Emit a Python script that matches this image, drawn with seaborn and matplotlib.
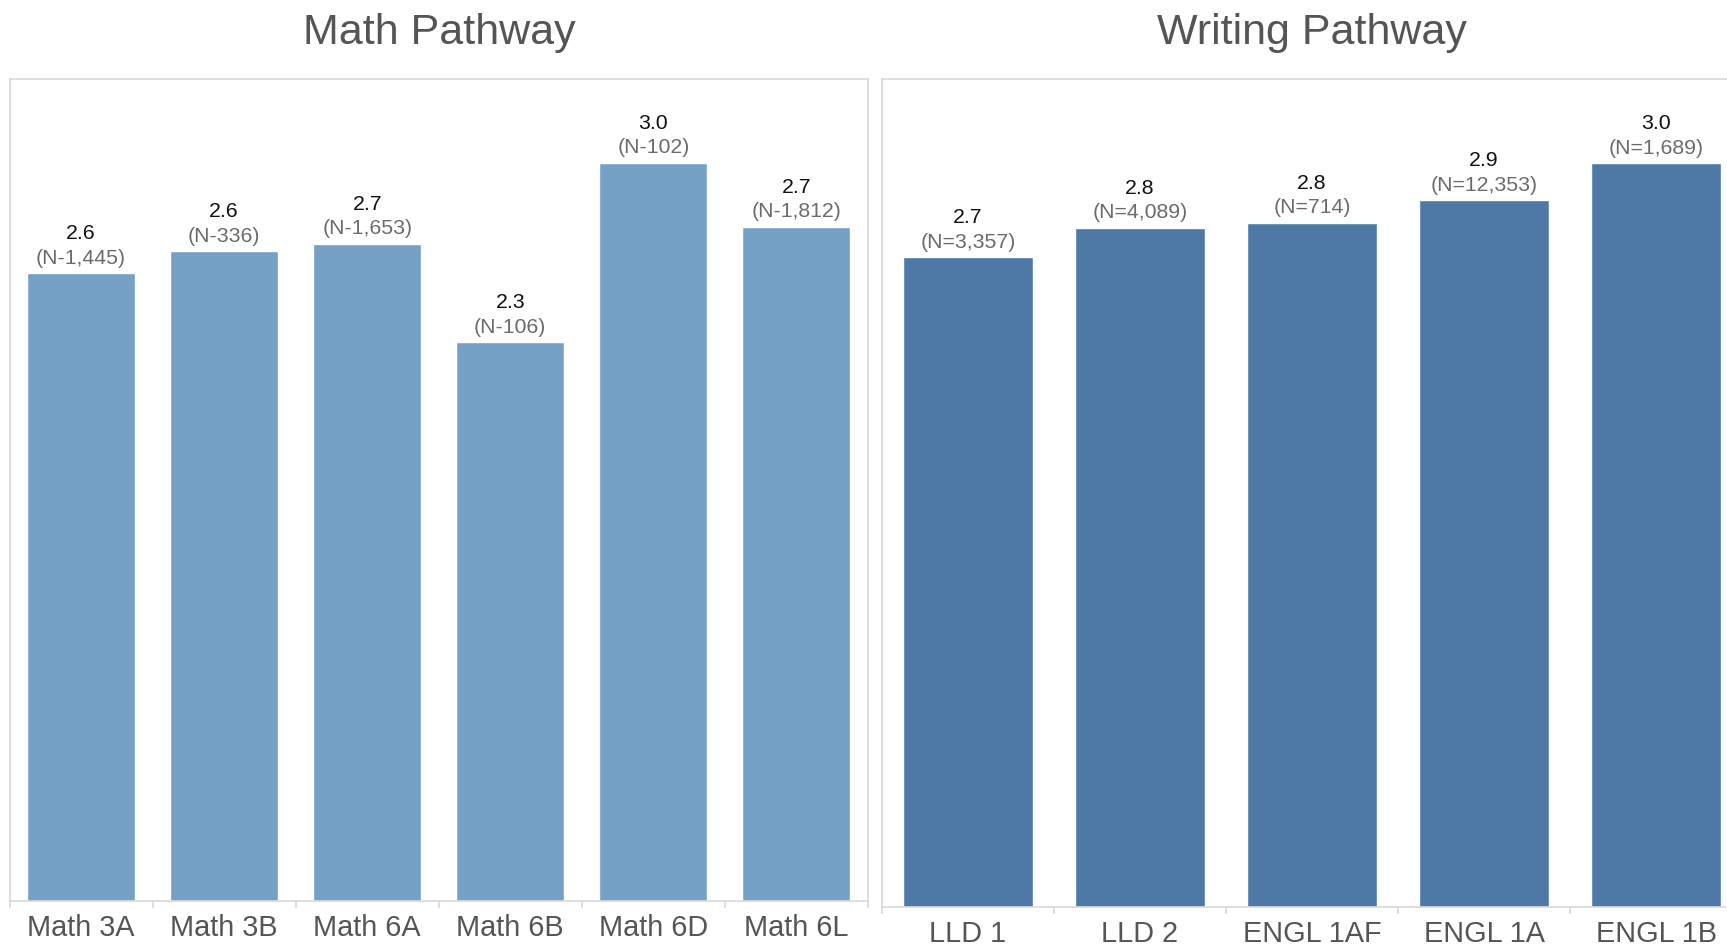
import matplotlib
matplotlib.use("Agg")
import matplotlib.pyplot as plt
import seaborn as sns
import numpy as np

# ---- data ----
math_courses = ["Math 3A", "Math 3B", "Math 6A", "Math 6B", "Math 6D", "Math 6L"]
math_means = [2.55, 2.64, 2.67, 2.27, 3.00, 2.74]
math_mean_labels = ["2.6", "2.6", "2.7", "2.3", "3.0", "2.7"]
math_n_labels = ["(N-1,445)", "(N-336)", "(N-1,653)", "(N-106)", "(N-102)", "(N-1,812)"]

writing_courses = ["LLD 1", "LLD 2", "ENGL 1AF", "ENGL 1A", "ENGL 1B"]
writing_means = [2.62, 2.74, 2.76, 2.85, 3.00]
writing_mean_labels = ["2.7", "2.8", "2.8", "2.9", "3.0"]
writing_n_labels = ["(N=3,357)", "(N=4,089)", "(N=714)", "(N=12,353)", "(N=1,689)"]

titles = ["Math Pathway", "Writing Pathway"]

# ---- style ----
sns.set_theme(style="white")
plt.rcParams["font.family"] = ["Liberation Sans", "DejaVu Sans"]

W, H = 1727, 947
fig = plt.figure(figsize=(W / 100, H / 100), dpi=100)

SPINE = "#d9d9d9"
LIGHT = "#76a1c7"
DARK = "#4e79a7"

def px_axes(x0, x1, top, bottom):
    return fig.add_axes([x0 / W, (H - bottom) / H, (x1 - x0) / W, (bottom - top) / H])

ax1 = px_axes(9.5, 868, 79, 901)
ax2 = px_axes(882, 1742, 79, 907)

panels = [
    (ax1, math_courses, math_means, math_mean_labels, math_n_labels, LIGHT),
    (ax2, writing_courses, writing_means, writing_mean_labels, writing_n_labels, DARK),
]

for ax, cats, vals, vlabels, nlabels, col in panels:
    sns.barplot(x=cats, y=vals, ax=ax, color=col, saturation=1, width=0.755)
    n = len(cats)
    ax.set_xlim(-0.5, n - 0.5)
    ax.set_ylim(0, 3.34)
    ax.set_yticks([])
    ax.set_xlabel("")
    ax.set_ylabel("")
    for s in ax.spines.values():
        s.set_color(SPINE)
        s.set_linewidth(1.2)
    ax.set_xticks(np.arange(n))
    ax.set_xticklabels(cats, fontsize=20.8, color="#555555")
    ax.tick_params(axis="x", which="major", length=0, pad=9, bottom=True)
    ax.set_xticks(np.arange(n + 1) - 0.5, minor=True)
    ax.tick_params(axis="x", which="minor", length=5, width=1.2, color=SPINE,
                   direction="out", bottom=True)
    for i, (v, vl, nl) in enumerate(zip(vals, vlabels, nlabels)):
        ax.annotate(vl, (i, v), xytext=(0, 24.5), textcoords="offset points",
                    ha="center", va="baseline", fontsize=15.3, color="#111111")
        ax.annotate(nl, (i, v), xytext=(0, 7), textcoords="offset points",
                    ha="center", va="baseline", fontsize=15.3, color="#6b6b6b")

fig.text(439 / W, (H - 44) / H, titles[0], ha="center", va="baseline",
         fontsize=31, color="#555555")
fig.text(1312 / W, (H - 44) / H, titles[1], ha="center", va="baseline",
         fontsize=31, color="#555555")

fig.savefig("out.png", dpi=100)
